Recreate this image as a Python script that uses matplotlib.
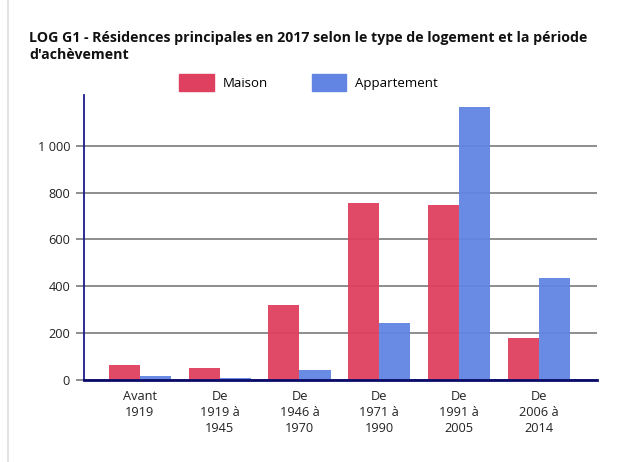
import matplotlib.pyplot as plt
import numpy as np
from matplotlib.lines import Line2D
from matplotlib.patches import Patch
from matplotlib.ticker import FuncFormatter

plt.rcParams["font.family"] = ["Open Sans", "DejaVu Sans"]

# Data
periods = ["Avant\n1919", "De\n1919 à\n1945", "De\n1946 à\n1970",
           "De\n1971 à\n1990", "De\n1991 à\n2005", "De\n2006 à\n2014"]
maison = [63, 50, 319, 757, 745, 179]
appartement = [17, 8, 42, 243, 1163, 434]
yticks = [0, 200, 400, 600, 800, 1000]

col_maison = "#e0405f"
col_appart = "#6285e3"

fig = plt.figure(figsize=(6.22, 4.62), dpi=100)
ax = fig.add_axes([0.135, 0.177, 0.825, 0.617])

x = np.arange(len(periods))
w = 0.39
ax.bar(x - w / 2, maison, w, color=col_maison, alpha=0.95, zorder=2)
ax.bar(x + w / 2, appartement, w, color=col_appart, alpha=0.95, zorder=2)

ax.set_xlim(-0.7, 5.73)
ax.set_ylim(0, 1215)
ax.set_yticks(yticks)
ax.yaxis.set_major_formatter(FuncFormatter(lambda v, p: f"{int(v):,}".replace(",", " ")))
ax.grid(axis="y", color="#7a7a7a", linewidth=1.2, zorder=1)
ax.set_axisbelow(True)

ax.set_xticks(x)
ax.set_xticklabels(periods, fontsize=9.2, color="#222222", linespacing=1.3)
ax.tick_params(axis="x", length=0, pad=7)
ax.tick_params(axis="y", length=6, color="#7a7a7a", width=1.2, labelsize=9.2, labelcolor="#222222", pad=4)

for s in ["top", "right"]:
    ax.spines[s].set_visible(False)
ax.spines["left"].set_color("#1a1a8c")
ax.spines["left"].set_linewidth(1.3)
ax.spines["bottom"].set_color("#0a0a6a")
ax.spines["bottom"].set_linewidth(2)
ax.spines["bottom"].set_zorder(3)

fig.text(0.047, 0.9, "LOG G1 - Résidences principales en 2017 selon le type de logement et la période\nd'achèvement",
         fontsize=10.2, fontweight="bold", color="#111111", va="center", linespacing=1.3)

handles = [Patch(color=col_maison, label="Maison"), Patch(color=col_appart, label="Appartement")]
fig.legend(handles=handles, loc="center", bbox_to_anchor=(0.496, 0.822), ncol=2, frameon=False,
           fontsize=9.5, handlelength=2.6, handleheight=1.6, columnspacing=3.3, handletextpad=0.7)

# light frame on the left edge
fig.add_artist(Line2D([0.013, 0.013], [0, 1], transform=fig.transFigure, color="#e3e3e3", linewidth=1.5))

fig.savefig("out.png", dpi=100)
